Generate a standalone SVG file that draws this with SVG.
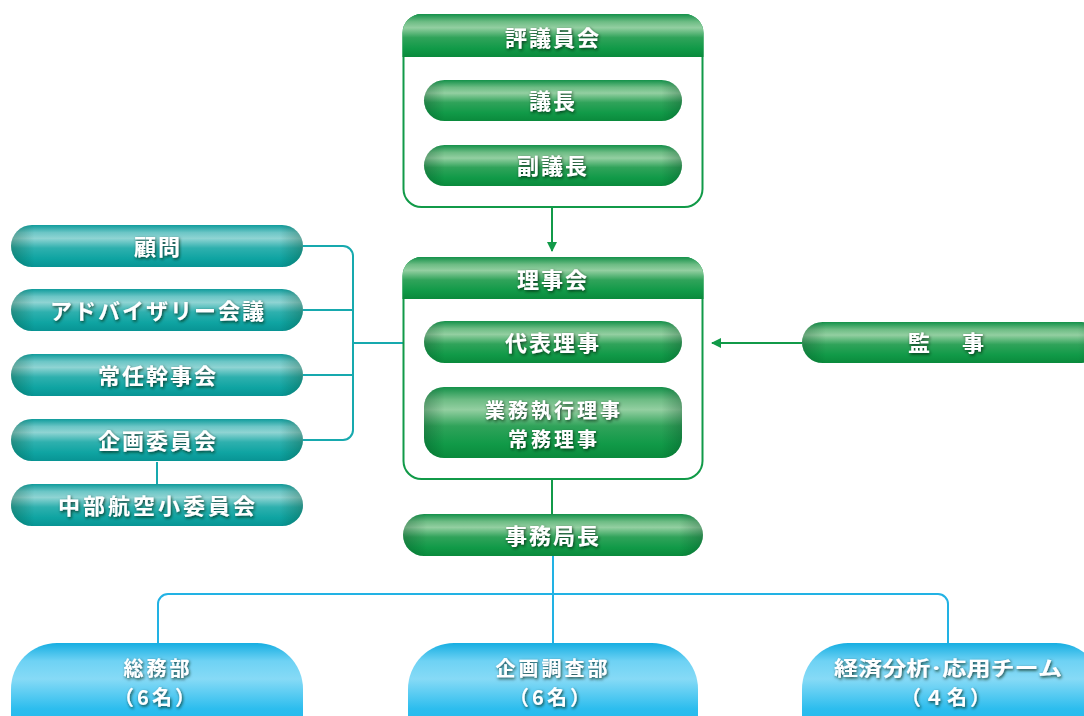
<svg xmlns="http://www.w3.org/2000/svg" width="1084" height="716" viewBox="0 0 1084 716">
<style>
.t{font-family:"Noto Sans CJK JP","Noto Sans",sans-serif;font-weight:bold;font-size:22px;fill:#fff;text-anchor:middle;letter-spacing:2px;filter:url(#sh)}
.t2{font-size:20px;letter-spacing:3px}
.g{fill:url(#gG)}
.tl{fill:url(#gT)}
.cy{fill:url(#gC)}
.ov{fill:url(#edge)}
.box{fill:#fff;stroke:#119a48;stroke-width:2}
.cg{stroke:#119a48;stroke-width:2;fill:none}
.ct{stroke:#17a9ae;stroke-width:2;fill:none}
.cc{stroke:#22b2e4;stroke-width:2;fill:none}
</style>
<defs>
<linearGradient id="gG" x1="0" y1="0" x2="0" y2="1">
<stop offset="0" stop-color="#14914a"/><stop offset="0.18" stop-color="#6dbc84"/><stop offset="0.32" stop-color="#93cfa1"/><stop offset="0.55" stop-color="#30a35a"/><stop offset="0.8" stop-color="#119a48"/><stop offset="1" stop-color="#0a8a3c"/>
</linearGradient>
<linearGradient id="gT" x1="0" y1="0" x2="0" y2="1">
<stop offset="0" stop-color="#109c9c"/><stop offset="0.18" stop-color="#6cc6c6"/><stop offset="0.32" stop-color="#8fd4d3"/><stop offset="0.55" stop-color="#2eb0ae"/><stop offset="0.8" stop-color="#0fa4a2"/><stop offset="1" stop-color="#089494"/>
</linearGradient>
<linearGradient id="gC" x1="0" y1="0" x2="0" y2="1">
<stop offset="0" stop-color="#16aee2"/><stop offset="0.15" stop-color="#6ed2f4"/><stop offset="0.3" stop-color="#86daf6"/><stop offset="0.55" stop-color="#2cbdee"/><stop offset="1" stop-color="#10b0e6"/>
</linearGradient>
<linearGradient id="edge" x1="0" y1="0" x2="1" y2="0">
<stop offset="0" stop-color="#003a1a" stop-opacity="0.3"/><stop offset="0.08" stop-color="#003a1a" stop-opacity="0"/><stop offset="0.92" stop-color="#003a1a" stop-opacity="0"/><stop offset="1" stop-color="#003a1a" stop-opacity="0.3"/>
</linearGradient>
<filter id="sh" x="-20%" y="-40%" width="140%" height="180%">
<feDropShadow dx="1" dy="1.5" stdDeviation="1.4" flood-color="#00200c" flood-opacity="0.8"/>
</filter>
<marker id="ah" viewBox="0 0 10 10" refX="9" refY="5" markerWidth="10" markerHeight="10" markerUnits="userSpaceOnUse" orient="auto">
<path d="M0,0 L10,5 L0,10 Z" fill="#119a48"/>
</marker>
</defs>

<g id="connectors">
<line class="cg" x1="552" y1="121" x2="552" y2="145"/>
<line class="cg" x1="552" y1="208" x2="552" y2="251" marker-end="url(#ah)"/>
<line class="cg" x1="552" y1="363" x2="552" y2="387"/>
<line class="cg" x1="552" y1="458" x2="552" y2="514"/>
<line class="cg" x1="802" y1="343" x2="712" y2="343" marker-end="url(#ah)"/>
<path class="ct" d="M303,246 H343 A10,10 0 0 1 353,256 V430 A10,10 0 0 1 343,440 H303"/>
<path class="ct" d="M303,310 H353 M303,375 H353 M353,343 H424 M157,462 V484"/>
<path class="cc" d="M553,556 V643 M158,643 V604 A10,10 0 0 1 168,594 H938 A10,10 0 0 1 948,604 V643"/>
</g>

<g id="hyogiinkai">
<rect class="box" x="403.5" y="15" width="299" height="192" rx="18"/>
<path class="g" d="M402.5,57 V33 A19,19 0 0 1 421.5,14 H684.5 A19,19 0 0 1 703.5,33 V57 Z"/>
<text class="t" x="553" y="46">評議員会</text>
</g>
<g id="gicho">
<rect class="g" x="424" y="80" width="258" height="41" rx="20.5"/>
<rect class="ov" x="424" y="80" width="258" height="41" rx="20.5"/>
<text class="t" x="553" y="109">議長</text>
</g>
<g id="fukugicho">
<rect class="g" x="424" y="145" width="258" height="41" rx="20.5"/>
<rect class="ov" x="424" y="145" width="258" height="41" rx="20.5"/>
<text class="t" x="553" y="174">副議長</text>
</g>

<g id="rijikai">
<rect class="box" x="403.5" y="258" width="299" height="221" rx="18"/>
<path class="g" d="M402.5,299 V276 A19,19 0 0 1 421.5,257 H684.5 A19,19 0 0 1 703.5,276 V299 Z"/>
<text class="t" x="553" y="288">理事会</text>
</g>
<g id="daihyoriji">
<rect class="g" x="424" y="321" width="258" height="42" rx="21"/>
<rect class="ov" x="424" y="321" width="258" height="42" rx="21"/>
<text class="t" x="553" y="351">代表理事</text>
</g>
<g id="gyomushikkoriji">
<rect class="g" x="424" y="387" width="258" height="71" rx="20"/>
<rect class="ov" x="424" y="387" width="258" height="71" rx="20"/>
<text class="t t2" x="554" y="418">業務執行理事</text>
<text class="t t2" x="554" y="447">常務理事</text>
</g>
<g id="jimukyokucho">
<rect class="g" x="403" y="514" width="300" height="42" rx="21"/>
<rect class="ov" x="403" y="514" width="300" height="42" rx="21"/>
<text class="t" x="553" y="544">事務局長</text>
</g>
<g id="kanji">
<rect class="g" x="802" y="322" width="300" height="41" rx="20.5"/>
<rect class="ov" x="802" y="322" width="300" height="41" rx="20.5"/>
<text class="t" x="908" y="351" style="text-anchor:start;letter-spacing:5px">監　事</text>
</g>

<g id="komon">
<rect class="tl" x="11" y="225" width="292" height="42" rx="21"/>
<rect class="ov" x="11" y="225" width="292" height="42" rx="21"/>
<text class="t" x="158" y="255">顧問</text>
</g>
<g id="advisory">
<rect class="tl" x="11" y="289" width="292" height="42" rx="21"/>
<rect class="ov" x="11" y="289" width="292" height="42" rx="21"/>
<text class="t" x="158" y="319">アドバイザリー会議</text>
</g>
<g id="joninkanjikai">
<rect class="tl" x="11" y="354" width="292" height="42" rx="21"/>
<rect class="ov" x="11" y="354" width="292" height="42" rx="21"/>
<text class="t" x="158" y="384">常任幹事会</text>
</g>
<g id="kikakuiinkai">
<rect class="tl" x="11" y="419" width="292" height="42" rx="21"/>
<rect class="ov" x="11" y="419" width="292" height="42" rx="21"/>
<text class="t" x="158" y="449">企画委員会</text>
</g>
<g id="chubukoku">
<rect class="tl" x="11" y="484" width="292" height="42" rx="21"/>
<rect class="ov" x="11" y="484" width="292" height="42" rx="21"/>
<text class="t" x="158" y="514" style="letter-spacing:3px">中部航空小委員会</text>
</g>

<g id="somubu">
<rect class="cy" x="11" y="643" width="292" height="120" rx="46"/>
<text class="t t2" x="158" y="676">総務部</text>
<text class="t t2" x="156" y="705">（6名）</text>
</g>
<g id="kikakuchosabu">
<rect class="cy" x="408" y="643" width="290" height="120" rx="46"/>
<text class="t t2" x="553" y="676">企画調査部</text>
<text class="t t2" x="551" y="705">（6名）</text>
</g>
<g id="keizaibunseki">
<rect class="cy" x="802" y="643" width="300" height="120" rx="46"/>
<text class="t t2" x="948" y="676" style="letter-spacing:0px" textLength="228" lengthAdjust="spacingAndGlyphs">経済分析･応用チーム</text>
<text class="t t2" x="947" y="705">（４名）</text>
</g>
</svg>
